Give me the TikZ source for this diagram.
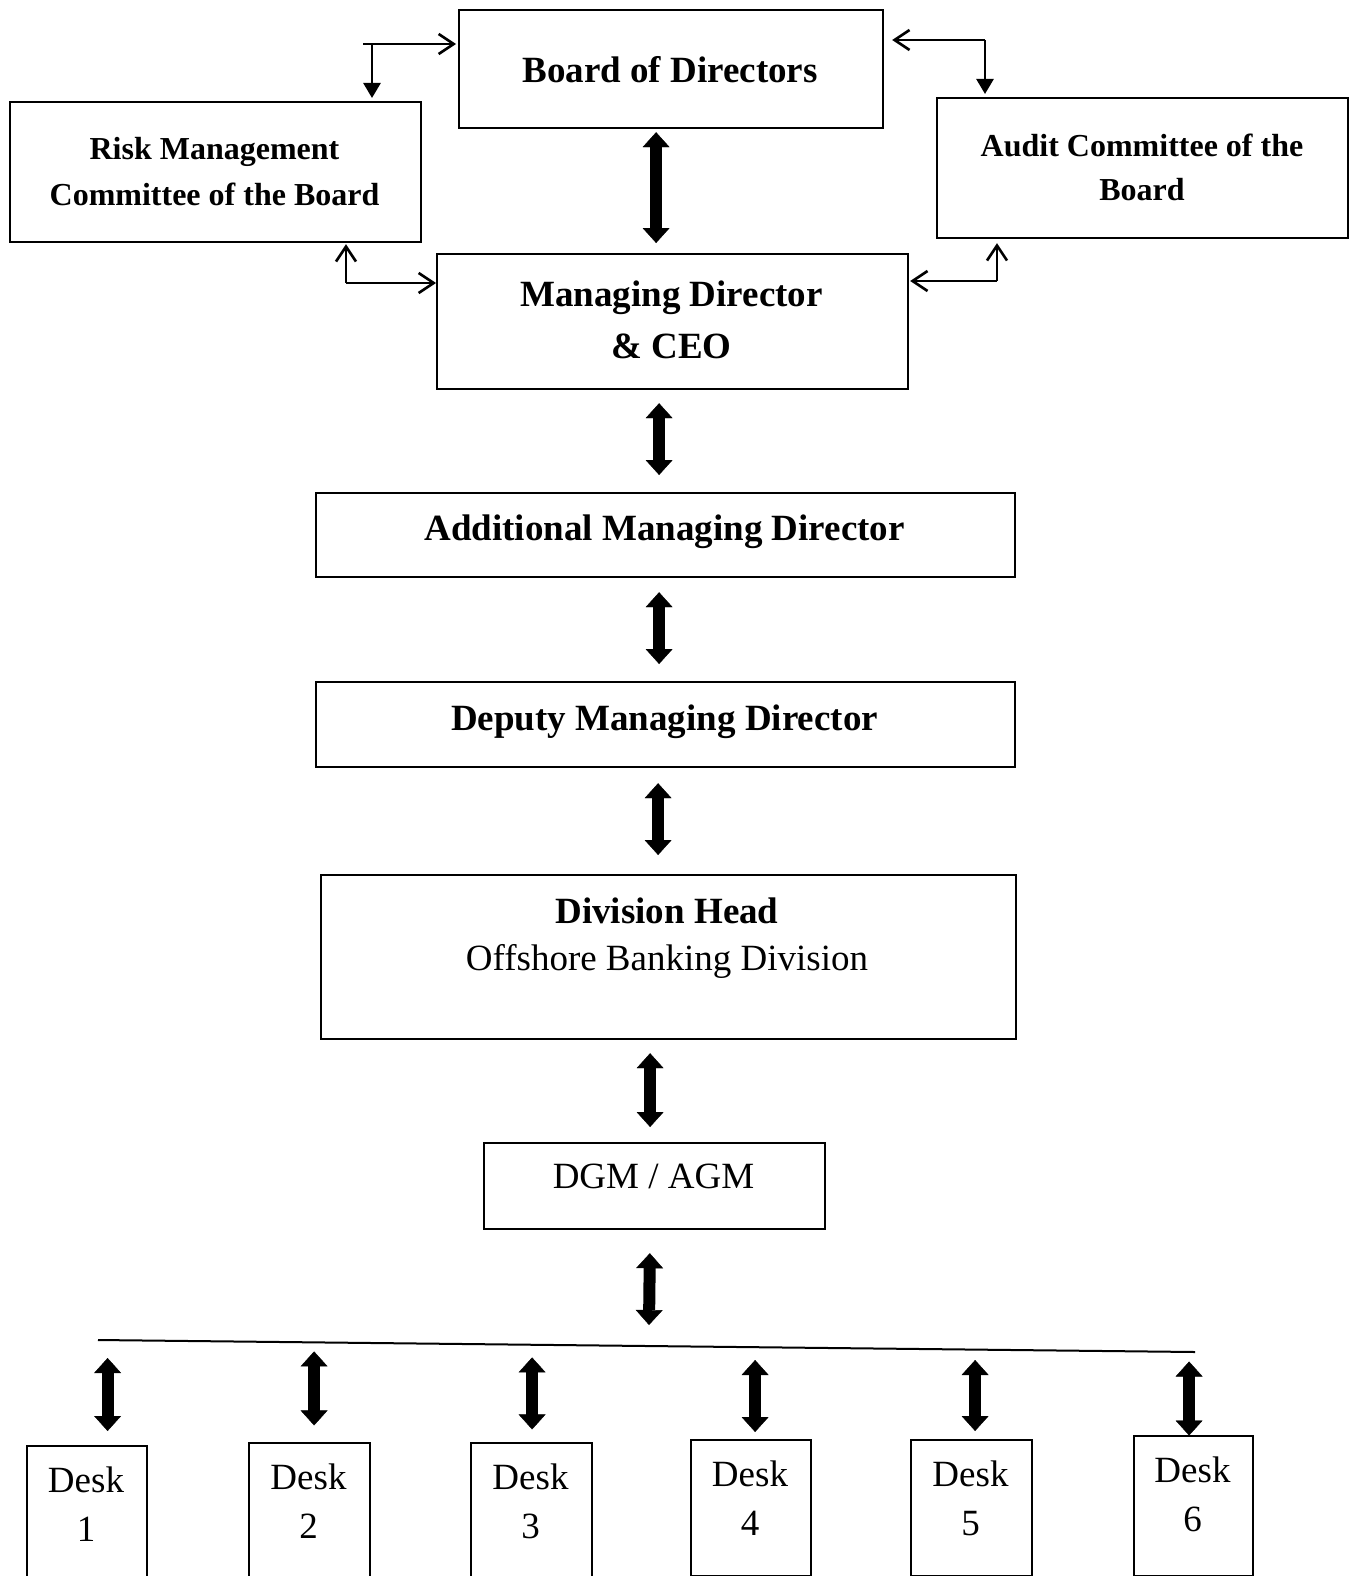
\documentclass[tikz,border=0pt]{standalone}
\usepackage{fontspec}
\setmainfont{Liberation Serif}
\usetikzlibrary{arrows.meta}

\begin{document}
\begin{tikzpicture}[x=1pt,y=-1pt,
  box/.style={draw, line width=2.2pt, inner sep=0pt, anchor=north west},
  hd/.style={anchor=base, inner sep=0pt, font=\fontsize{37}{44}\selectfont\bfseries},
  hdsmall/.style={anchor=base, inner sep=0pt, font=\fontsize{32}{38}\selectfont\bfseries},
  plain/.style={anchor=base, inner sep=0pt, font=\fontsize{37}{44}\selectfont},
  link/.style={line width=2.6pt},
  openhead/.style={-{Straight Barb[length=15pt,width=20pt]}},
  solidhead/.style={-{Triangle[length=15pt,width=17pt]}},
  big/.style={line width=12pt,
    arrows={Triangle[length=15pt,width=27pt,line width=0.4pt]-Triangle[length=15pt,width=27pt,line width=0.4pt]}},
]
\useasboundingbox (0,0) rectangle (1356,1576);
\clip (0,0) rectangle (1356,1576);

% boxes
\node[box, minimum width=424pt, minimum height=118pt] (bod)   at (458,9)   {};
\node[box, minimum width=411pt, minimum height=140pt] (risk)  at (9,101)   {};
\node[box, minimum width=411pt, minimum height=140pt] (audit) at (936,97)  {};
\node[box, minimum width=471pt, minimum height=135pt] (md)    at (436,253) {};
\node[box, minimum width=699pt, minimum height=84pt]  (amd)   at (315,492) {};
\node[box, minimum width=699pt, minimum height=85pt]  (dmd)   at (315,681) {};
\node[box, minimum width=695pt, minimum height=164pt] (dh)    at (320,874) {};
\node[box, minimum width=341pt, minimum height=86pt]  (dgm)   at (483,1142) {};

% desks (cut off at the lower edge)
\node[box, minimum width=120pt, minimum height=140pt] (desk1) at (26,1445)  {};
\node[box, minimum width=121pt, minimum height=140pt] (desk2) at (248,1442) {};
\node[box, minimum width=121pt, minimum height=140pt] (desk3) at (470,1442) {};
\node[box, minimum width=120pt, minimum height=136pt] (desk4) at (690,1439) {};
\node[box, minimum width=121pt, minimum height=136pt] (desk5) at (910,1439) {};
\node[box, minimum width=119pt, minimum height=140pt] (desk6) at (1133,1435) {};

% labels
\node[hd] (tbod) at (670,83) {Board of Directors};
\node[hdsmall] (trisk1) at (214.5,160) {Risk Management};
\node[hdsmall] (trisk2) at (214.5,205) {Committee of the Board};
\node[hdsmall] (taud1) at (1142,156.5) {Audit Committee of the};
\node[hdsmall] (taud2) at (1142,200.5) {Board};
\node[hd] (tmd1) at (671.5,306) {Managing Director};
\node[hd] (tmd2) at (671.5,358) {\& CEO};
\node[hd] (tamd) at (664.5,540) {Additional Managing Director};
\node[hd] (tdmd) at (664.5,730) {Deputy Managing Director};
\node[hd] (tdh1) at (667,923) {Division Head};
\node[plain] (tdh2) at (667,970) {Offshore Banking Division};
\node[plain] (tdgm) at (653.5,1188) {DGM / AGM};

\foreach \i/\x/\t in {1/86/1445, 2/308.5/1442, 3/530.5/1442, 4/750/1439, 5/970.5/1439, 6/1192.5/1435}{
  \node[plain] (dw\i) at (\x,\t+47) {Desk};
  \node[plain] (dn\i) at (\x,\t+96) {\i};
}

% committee links
\coordinate (tls) at (363,44);
\coordinate (tlc) at (372,44);
\draw[link, openhead, shorten >=2pt] (tls) -- (tls -| bod.west);
\draw[link, solidhead, shorten >=3pt] (tlc) -- (tlc |- risk.north);

\coordinate (trc) at (985,40);
\draw[link, openhead, shorten >=8pt] (trc) -- (trc -| bod.east);
\draw[link, solidhead, shorten >=3pt] (trc) -- (trc |- audit.north);

\coordinate (blc) at (346,283);
\draw[link, openhead, shorten >=1pt] (blc) -- (blc |- risk.south);
\draw[link, openhead] (blc) -- (blc -| md.west);

\coordinate (brc) at (997,281);
\draw[link, openhead, shorten >=1pt] (brc) -- (brc -| md.east);
\draw[link, openhead, shorten >=4pt] (brc) -- (brc |- audit.south);

% chain of command
\draw[big, shorten <=3pt, shorten >=10pt] ([xshift=-15pt]bod.south) -- ([xshift=-16.5pt]md.north);
\draw[big, shorten <=13pt, shorten >=17pt] ([xshift=-13.5pt]md.south) -- ([xshift=-6.5pt]amd.north);
\draw[big, shorten <=14pt, shorten >=17pt] ([xshift=-6.5pt]amd.south) -- ([xshift=-6.5pt]dmd.north);
\draw[big, shorten <=15pt, shorten >=19pt] ([xshift=-7.5pt]dmd.south) -- ([xshift=-10.5pt]dh.north);
\draw[big, shorten <=13pt, shorten >=15pt] ([xshift=-18.5pt]dh.south) -- ([xshift=-4.5pt]dgm.north);
\coordinate (dgmend) at (649,1325);
\draw[big, shorten <=23pt] ([xshift=-4.5pt]dgm.south) -- (dgmend);

% desk rail
\coordinate (rail1) at (98,1340);
\coordinate (rail2) at (1195,1352);
\draw[line width=2pt] (rail1) -- (rail2);

% desk arrows
\draw[big] ([xshift=20.5pt,yshift=14pt]desk1.north) -- ++(0,-73);
\draw[big] ([xshift=4.5pt,yshift=16.6pt]desk2.north) -- ++(0,-74);
\draw[big] ([xshift=0.5pt,yshift=12.6pt]desk3.north) -- ++(0,-72);
\draw[big] ([xshift=4pt,yshift=7pt]desk4.north) -- ++(0,-72);
\draw[big] ([xshift=3.5pt,yshift=8pt]desk5.north) -- ++(0,-71);
\draw[big] ([xshift=-4.5pt,yshift=-0.5pt]desk6.north) -- ++(0,-74);
\end{tikzpicture}
\end{document}
